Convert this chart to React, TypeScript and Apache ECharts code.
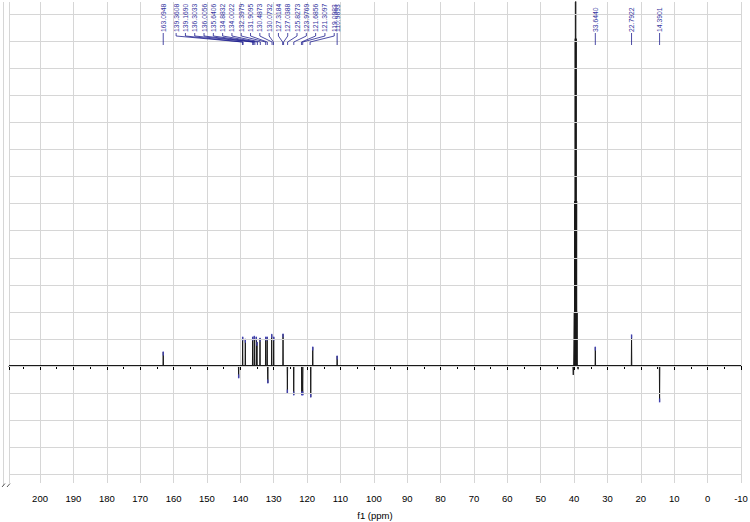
import React, { useEffect, useRef } from "react";
import * as echarts from "echarts";

// ---- data (ppm, intensity in grid units; 1 unit = one horizontal grid division) ----
const peakPpm = [
  163.09, 140.5, 139.3, 138.5, 136.3, 135.8, 135.2, 135.0, 134.1, 132.4, 131.95, 131.75,
  130.6, 130.0, 127.2, 125.9, 124.0, 121.6, 121.3, 118.9, 118.3, 110.99, 33.64, 22.79, 14.39,
];
const peakHeight = [
  0.52, -0.44, 1.07, 0.99, 1.07, 1.1, 1.07, 0.88, 1.03, 1.07, 1.07, -0.63,
  1.17, 1.07, 1.18, -1.0, -1.07, -1.07, -1.07, -1.15, 0.7, 0.37, 0.7, 1.15, -1.33,
];
// DMSO-d6 septet
const solventPpm = [39.94, 39.80, 39.66, 39.52, 39.38, 39.24, 39.10];
const solventHeight = [2.0, 6.1, 12.1, 14.2, 12.1, 6.1, 2.0];
const artifactPpm = [40.25, 38.8];
const artifactHeight = [-0.33, -0.12];

// peak labels
const isolatedLabels = ["163.0948", "110.9893", "33.6440", "22.7922", "14.3901"];
const clusterLabels = [
  "139.3608", "139.1690", "136.3033", "136.0056", "135.6406", "134.8832", "134.0022",
  "132.3979", "131.9095", "130.4873", "130.0732", "127.3184", "127.0388", "125.8273",
  "123.9769", "121.6856", "121.3097", "119.0983",
];

const X_MIN = -10;
const X_MAX = 209.3;
const Y_MIN = -4.325;
const Y_MAX = 13.456;
const gridValues = [-4, -3, -2, -1, 0, 1, 2, 3, 4, 5, 6, 7, 8, 9, 10, 11, 12, 13, Y_MAX];

// label layout (annotation only)
const CLUSTER_START_PPM = 159.23;
const CLUSTER_PITCH_PX = 9.3;

function buildSpectrum(): number[][] {
  const all: { p: number; h: number; w: number }[] = [];
  peakPpm.forEach((p, i) => all.push({ p, h: peakHeight[i], w: 0.07 }));
  solventPpm.forEach((p, i) => all.push({ p, h: solventHeight[i], w: 0.05 }));
  artifactPpm.forEach((p, i) => all.push({ p, h: artifactHeight[i], w: 0.12 }));
  all.sort((a, b) => b.p - a.p);
  const pts: number[][] = [[X_MAX, 0]];
  all.forEach(({ p, h, w }) => {
    pts.push([p + w, 0], [p, h], [p - w, 0]);
  });
  pts.push([X_MIN, 0]);
  return pts;
}

export default function App() {
  const ref = useRef<HTMLDivElement>(null);
  useEffect(() => {
    if (!ref.current) return;
    const chart = echarts.init(ref.current, null, { renderer: "svg" });

    const labelItems = [
      ...isolatedLabels.map((t) => ({ text: t, slot: -1 })),
      ...clusterLabels.map((t, k) => ({ text: t, slot: k })),
    ];

    const markerData = peakPpm.map((p, i) => ({
      value: [p, peakHeight[i]],
      symbolOffset: [0, peakHeight[i] > 0 ? 1.5 : -1.5],
    }));

    const labelColor = "#3535a0";
    const lineColor = "#1f1f8f";

    const option: any = {
      animation: false,
      backgroundColor: "#ffffff",
      grid: { left: 9, right: 9, top: 2, bottom: 39, containLabel: false, outerBoundsMode: "none" },
      xAxis: {
        type: "value",
        inverse: true,
        min: X_MIN,
        max: X_MAX,
        interval: 10,
        axisLine: { show: true, lineStyle: { color: "#000", width: 1 } },
        axisTick: { show: true, length: 4, lineStyle: { color: "#000" } },
        minorTick: { show: true, splitNumber: 2, length: 3, lineStyle: { color: "#000" } },
        axisLabel: {
          color: "#000",
          fontSize: 9.5,
          fontFamily: "Liberation Sans",
          margin: 10,
          showMaxLabel: false,
        },
        splitLine: { show: true, lineStyle: { color: "#d6d6d6", width: 1 } },
        name: "f1 (ppm)",
        nameLocation: "middle",
        nameGap: 27,
        nameTextStyle: { color: "#000", fontSize: 9.5, fontFamily: "Liberation Sans" },
      },
      yAxis: { type: "value", min: Y_MIN, max: Y_MAX, show: false },
      series: [
        {
          type: "line",
          name: "baseline",
          data: [
            [X_MAX, 0],
            [X_MIN, 0],
          ],
          symbol: "none",
          z: 2,
          lineStyle: { color: "#1a1a1a", width: 2 },
          markLine: {
            silent: true,
            symbol: ["none", "none"],
            label: { show: false },
            lineStyle: { color: "#d6d6d6", width: 1, type: "solid" },
            data: gridValues.map((v) => ({ yAxis: v })),
          },
        },
        {
          type: "line",
          name: "spectrum",
          data: buildSpectrum(),
          symbol: "none",
          z: 3,
          clip: true,
          lineStyle: { color: "#1a1a1a", width: 1 },
        },
        {
          type: "scatter",
          name: "markers",
          data: markerData,
          symbol: "rect",
          symbolSize: [1.4, 4],
          z: 4,
          itemStyle: { color: "#4a4ad0" },
        },
        {
          type: "custom",
          name: "labels",
          coordinateSystem: "cartesian2d",
          clip: false,
          z: 5,
          data: labelItems.map((l) => [parseFloat(l.text), 0]),
          renderItem: (params: any, api: any) => {
            const item = labelItems[params.dataIndex];
            const peakX = api.coord([parseFloat(item.text), 0])[0];
            let colX = peakX;
            if (item.slot >= 0) {
              colX = api.coord([CLUSTER_START_PPM, 0])[0] + item.slot * CLUSTER_PITCH_PX;
            }
            const textBottom = 32;
            const pts =
              item.slot >= 0
                ? [
                    [colX, textBottom + 1],
                    [colX, 36],
                    [peakX, 42],
                    [peakX, 45],
                  ]
                : [
                    [colX, textBottom + 1],
                    [colX, 45],
                  ];
            return {
              type: "group",
              children: [
                {
                  type: "text",
                  x: colX,
                  y: textBottom,
                  rotation: Math.PI / 2,
                  style: {
                    text: item.text,
                    fill: labelColor,
                    fontSize: 6.8,
                    fontFamily: "Liberation Sans",
                    align: "left",
                    verticalAlign: "middle",
                  },
                },
                {
                  type: "polyline",
                  shape: { points: pts },
                  style: { stroke: lineColor, lineWidth: 0.8, fill: null },
                },
              ],
            };
          },
        },
      ],
      graphic: [
        {
          type: "line",
          shape: { x1: 3.5, y1: 2, x2: 3.5, y2: 486 },
          style: { stroke: "#d6d6d6", lineWidth: 1 },
          silent: true,
        },
        {
          type: "line",
          shape: { x1: 2, y1: 487, x2: 5, y2: 483.5 },
          style: { stroke: "#333", lineWidth: 0.8 },
          silent: true,
        },
        {
          type: "line",
          shape: { x1: 7, y1: 487, x2: 10, y2: 483.5 },
          style: { stroke: "#333", lineWidth: 0.8 },
          silent: true,
        },
      ],
    };

    chart.setOption(option);
    return () => chart.dispose();
  }, []);

  return (
    <div
      ref={ref}
      style={{ position: "fixed", left: 0, top: 0, width: 750, height: 522, background: "#fff" }}
    />
  );
}
